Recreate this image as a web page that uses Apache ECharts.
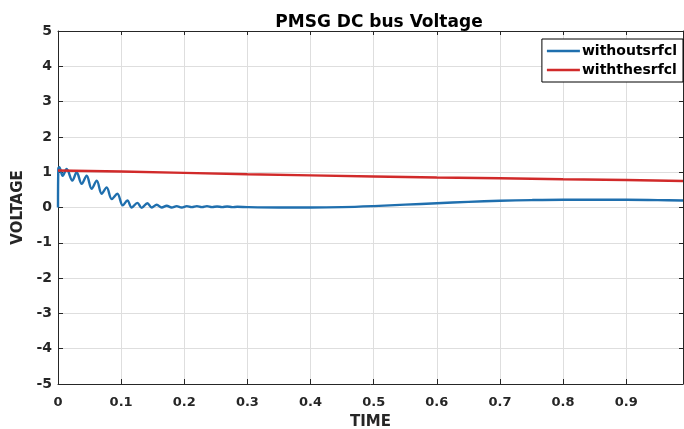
<!DOCTYPE html>
<html>
<head>
<meta charset="utf-8">
<script src="https://cdn.jsdelivr.net/npm/echarts@6/dist/echarts.min.js"></script>
<style>html,body{margin:0;padding:0;background:#fff}#c{width:684px;height:429px}</style>
</head>
<body>
<div id="c"></div>
<script>
const titleText = 'PMSG DC bus Voltage';
const seriesNames = ['withoutsrfcl', 'withthesrfcl'];
const blueT = [0,0.0005,0.002,0.0074,0.0137,0.0227,0.0296,0.0375,0.0454,0.0533,0.0613,0.0692,0.0771,0.085,0.094,0.1025,0.1099,0.1167,0.1257,0.1326,0.1416,0.1485,0.1564,0.1643,0.1722,0.18,0.188,0.196,0.204,0.212,0.220,0.228,0.236,0.244,0.252,0.260,0.268,0.276,0.284,0.30,0.35,0.40,0.45,0.50,0.55,0.60,0.65,0.70,0.75,0.80,0.85,0.90,0.95,0.99];
const blueV = [0,1.10,1.14,0.90,1.09,0.76,1.00,0.67,0.90,0.53,0.76,0.39,0.57,0.24,0.39,0.06,0.20,0.00,0.13,-0.01,0.12,0.00,0.08,0.00,0.05,0.00,0.04,0.00,0.04,0.01,0.04,0.01,0.04,0.01,0.03,0.01,0.03,0.01,0.02,0.01,0.00,0.00,0.01,0.04,0.08,0.12,0.16,0.19,0.21,0.22,0.22,0.22,0.21,0.20];
const redT = [0,0.1,0.2,0.3,0.4,0.5,0.6,0.7,0.8,0.9,0.99];
const redV = [1.05,1.02,0.98,0.94,0.91,0.88,0.85,0.83,0.80,0.78,0.75];
const yTicks = [-5,-4,-3,-2,-1,0,1,2,3,4,5];

const F = 'DejaVu Sans';
const axisCol = '#262626';
const blue = '#1f6fae', red = '#d12a2a';
const chart = echarts.init(document.getElementById('c'));
chart.setOption({
  animation: false,
  backgroundColor: '#fff',
  title: {
    text: titleText, left: 374, top: 9, textAlign: 'center',
    textStyle: {fontFamily: F, fontSize: 17, fontWeight: 'bold', color: '#000'}
  },
  legend: {
    orient: 'vertical', right: 1, top: 39,
    backgroundColor: '#fff', borderColor: '#000', borderWidth: 1,
    padding: [4, 6, 4, 5], itemGap: 3, itemWidth: 33, itemHeight: 2.5, icon: 'rect',
    textStyle: {fontFamily: F, fontSize: 14, fontWeight: 'bold', color: '#000', padding: [0,0,0,-3], lineHeight: 16},
    data: seriesNames
  },
  grid: {left: 58, right: 1, top: 31, bottom: 45, containLabel: false, outerBoundsMode: 'none'},
  xAxis: [{
    type: 'value', min: 0, max: 0.99, interval: 0.1,
    name: 'TIME', nameLocation: 'middle', nameGap: 31,
    nameTextStyle: {fontFamily: F, fontSize: 15, fontWeight: 'bold', color: axisCol},
    axisLine: {show: true, onZero: false, lineStyle: {color: axisCol, width: 1}},
    axisTick: {show: true, inside: true, length: 5, lineStyle: {color: axisCol}},
    axisLabel: {fontFamily: F, fontSize: 13, fontWeight: 'bold', color: axisCol, margin: 12, showMaxLabel: false,
      formatter: v => (Math.abs(v*10 - Math.round(v*10)) < 1e-6 ? String(Math.round(v*10)/10) : '')},
    splitLine: {show: true, lineStyle: {color: '#dedede', width: 1}}
  }, {
    type: 'value', min: 0, max: 0.99, interval: 0.1, position: 'top',
    axisLine: {show: true, onZero: false, lineStyle: {color: axisCol, width: 1}},
    axisTick: {show: true, inside: true, length: 4, lineStyle: {color: axisCol}},
    axisLabel: {show: false}, splitLine: {show: false}
  }],
  yAxis: [{
    type: 'value', min: yTicks[0], max: yTicks[yTicks.length-1], interval: 1,
    name: 'VOLTAGE', nameLocation: 'middle', nameGap: 27, nameRotate: 90,
    nameTextStyle: {fontFamily: F, fontSize: 15, fontWeight: 'bold', color: axisCol},
    axisLine: {show: true, onZero: false, lineStyle: {color: axisCol, width: 1}},
    axisTick: {show: true, inside: true, length: 5, lineStyle: {color: axisCol}},
    axisLabel: {fontFamily: F, fontSize: 14, fontWeight: 'bold', color: axisCol, margin: 6},
    splitLine: {show: true, lineStyle: {color: '#dedede', width: 1}}
  }, {
    type: 'value', min: yTicks[0], max: yTicks[yTicks.length-1], interval: 1, position: 'right',
    axisLine: {show: true, onZero: false, lineStyle: {color: axisCol, width: 1}},
    axisTick: {show: true, inside: true, length: 4, lineStyle: {color: axisCol}},
    axisLabel: {show: false}, splitLine: {show: false}
  }],
  series: [{
    name: seriesNames[0], type: 'line', xAxisIndex: 0, yAxisIndex: 0,
    data: blueT.map((t, i) => [t, blueV[i]]),
    symbol: 'none', smooth: 0.35,
    lineStyle: {color: blue, width: 2.4}, itemStyle: {color: blue}
  }, {
    name: seriesNames[1], type: 'line', xAxisIndex: 0, yAxisIndex: 0,
    data: redT.map((t, i) => [t, redV[i]]),
    symbol: 'none', smooth: false,
    lineStyle: {color: red, width: 2.4}, itemStyle: {color: red}
  }]
});
</script>
</body>
</html>
